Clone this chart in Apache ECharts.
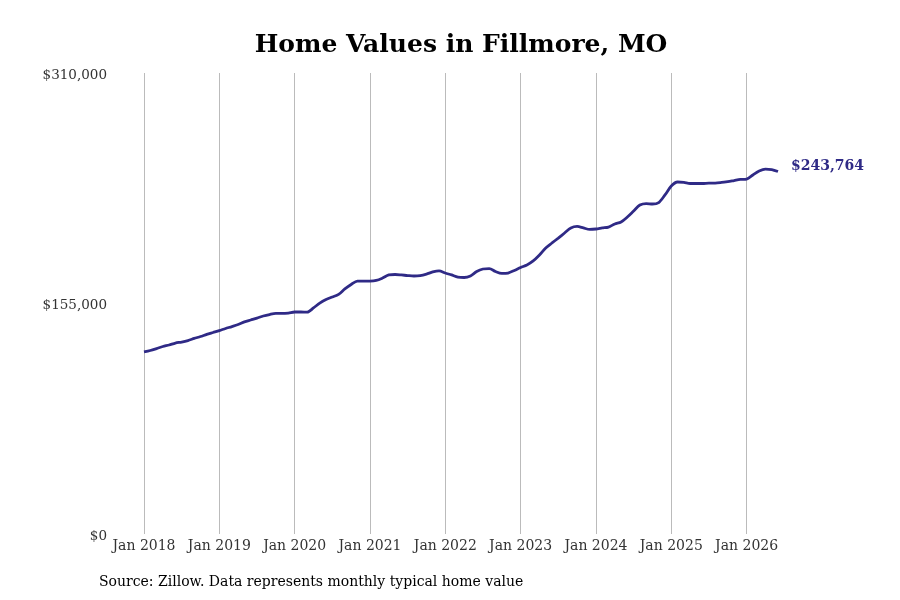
<!DOCTYPE html>
<html lang="en">
<head>
  <meta charset="UTF-8" />
  <title>Home Values in Fillmore, MO</title>
  <style>
    html, body { margin: 0; padding: 0; background: #fff; }
    #chart { width: 900px; height: 600px; }
  </style>
</head>
<body>
  <div id="chart"></div>
  <script src="https://cdn.jsdelivr.net/npm/echarts@6/dist/echarts.min.js"></script>
  <script>
    // monthly typical home value, Jan 2018 - Jun 2026
    const years = [2018, 2019, 2020, 2021, 2022, 2023, 2024, 2025, 2026];
    const monthNames = ['Jan', 'Feb', 'Mar', 'Apr', 'May', 'Jun', 'Jul', 'Aug', 'Sep', 'Oct', 'Nov', 'Dec'];
    const values2018 = [122400, 123400, 124700, 126100, 127100, 128400, 129100, 130100, 131500, 132800, 134200, 135500];
    const values2019 = [136800, 138200, 139500, 140900, 142600, 143900, 145200, 146600, 147600, 148300, 148300, 148600];
    const values2020 = [149300, 149300, 149200, 152000, 155300, 157700, 159400, 161100, 164800, 167800, 170100, 170100];
    const values2021 = [170100, 170500, 172100, 174200, 174500, 174200, 173800, 173500, 173800, 174800, 176200, 176900];
    const values2022 = [175500, 174200, 172800, 172500, 173500, 176500, 178200, 178500, 176500, 175200, 175500, 177200];
    const values2023 = [179200, 180900, 183600, 187600, 192300, 195700, 199000, 202400, 205800, 206800, 205800, 204800];
    const values2024 = [205100, 205800, 206400, 208500, 209800, 213200, 217200, 221200, 222200, 221900, 222900, 228000];
    const values2025 = [234000, 236700, 236400, 235700, 235700, 235700, 236000, 236000, 236400, 237000, 237700, 238400];
    const values2026 = [238700, 241400, 244100, 245400, 245100, 243764];

    const values = [].concat(values2018, values2019, values2020, values2021, values2022,
      values2023, values2024, values2025, values2026);

    // category labels, one per month
    const months = [];
    years.forEach(function (y) {
      monthNames.forEach(function (m) {
        if (months.length < values.length) months.push(m + ' ' + y);
      });
    });

    const lineColor = '#2f2a86';
    const serif = 'DejaVu Serif';
    const isJan = function (idx, val) { return months[idx].indexOf('Jan') === 0; };
    const money = function (v) { return '$' + Math.round(v).toLocaleString('en-US'); };

    const chart = echarts.init(document.getElementById('chart'));
    chart.setOption({
      animation: false,
      title: {
        text: 'Home Values in Fillmore, MO',
        left: 456,
        top: 28,
        textAlign: 'center',
        textStyle: { fontFamily: serif, fontWeight: 'bold', fontSize: 25, color: '#000' }
      },
      grid: { left: 144, right: 122, top: 73, bottom: 66 },
      xAxis: {
        type: 'category',
        data: months,
        boundaryGap: false,
        axisLine: { show: false },
        axisTick: { show: false },
        axisLabel: {
          interval: isJan,
          margin: 5,
          fontFamily: serif,
          fontSize: 14,
          color: '#333'
        },
        splitLine: { show: true, interval: isJan, lineStyle: { color: '#bbb', width: 1 } }
      },
      yAxis: {
        type: 'value',
        min: 0,
        max: 310000,
        interval: 155000,
        axisLine: { show: false },
        axisTick: { show: false },
        splitLine: { show: false },
        axisLabel: {
          margin: 37,
          verticalAlign: 'top',
          lineHeight: 4,
          fontFamily: serif,
          fontSize: 13.5,
          color: '#333',
          formatter: money
        }
      },
      series: [{
        type: 'line',
        data: values,
        smooth: 0.3,
        showSymbol: false,
        lineStyle: { color: lineColor, width: 2.8 },
        endLabel: {
          show: true,
          distance: 13,
          offset: [0, -5],
          fontFamily: serif,
          fontWeight: 'bold',
          fontSize: 14,
          color: lineColor,
          formatter: function (p) { return money(p.value); }
        }
      }],
      graphic: [{
        type: 'text',
        left: 99,
        top: 575,
        style: {
          text: 'Source: Zillow. Data represents monthly typical home value',
          fontFamily: serif,
          fontSize: 14,
          fill: '#000'
        }
      }]
    });
  </script>
</body>
</html>
